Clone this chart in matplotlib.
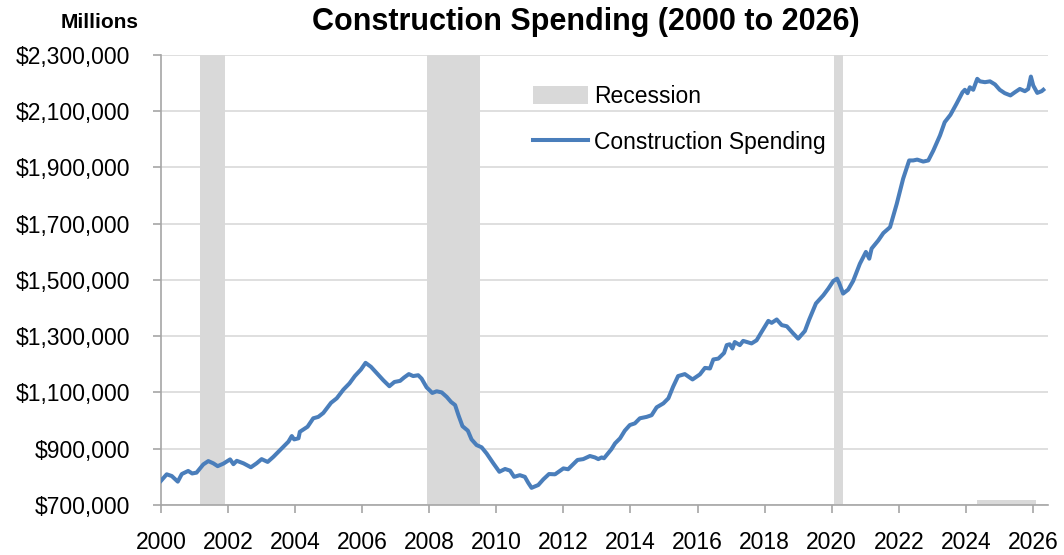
import matplotlib
matplotlib.use('Agg')
import matplotlib.pyplot as plt
from matplotlib.ticker import FuncFormatter, MultipleLocator

# Data (decimal year, $ millions)
years = [
    2000.00, 2000.17, 2000.32, 2000.50, 2000.62, 2000.81, 2000.93, 2001.06, 2001.26, 2001.41,
    2001.56, 2001.69, 2001.86, 2002.06, 2002.16, 2002.26, 2002.46, 2002.68, 2002.85, 2003.00,
    2003.18, 2003.35, 2003.60, 2003.80, 2003.90, 2003.97, 2004.10, 2004.14, 2004.37, 2004.54,
    2004.69, 2004.84, 2005.07, 2005.24, 2005.44, 2005.62, 2005.78, 2005.96, 2006.10, 2006.26,
    2006.43, 2006.63, 2006.81, 2006.96, 2007.13, 2007.25, 2007.39, 2007.52, 2007.67, 2007.77,
    2007.92, 2008.09, 2008.22, 2008.37, 2008.52, 2008.65, 2008.77, 2008.87, 2008.99, 2009.15,
    2009.26, 2009.41, 2009.56, 2009.71, 2009.91, 2010.09, 2010.26, 2010.41, 2010.53, 2010.70,
    2010.85, 2010.95, 2011.05, 2011.25, 2011.40, 2011.57, 2011.75, 2012.00, 2012.14, 2012.42,
    2012.59, 2012.79, 2012.94, 2013.04, 2013.14, 2013.21, 2013.43, 2013.54, 2013.69, 2013.83,
    2013.98, 2014.13, 2014.28, 2014.48, 2014.63, 2014.78, 2014.98, 2015.13, 2015.27, 2015.42,
    2015.62, 2015.85, 2016.07, 2016.22, 2016.37, 2016.47, 2016.62, 2016.79, 2016.87, 2016.96,
    2017.04, 2017.11, 2017.26, 2017.36, 2017.61, 2017.76, 2017.91, 2018.11, 2018.21, 2018.36,
    2018.51, 2018.66, 2018.84, 2019.00, 2019.20, 2019.33, 2019.53, 2019.75, 2019.90, 2020.05,
    2020.16, 2020.22, 2020.34, 2020.49, 2020.64, 2020.84, 2021.02, 2021.12, 2021.19, 2021.39,
    2021.54, 2021.74, 2021.94, 2022.13, 2022.31, 2022.43, 2022.55, 2022.73, 2022.88, 2023.03,
    2023.23, 2023.37, 2023.54, 2023.72, 2023.90, 2023.97, 2024.05, 2024.12, 2024.22, 2024.34,
    2024.42, 2024.57, 2024.72, 2024.87, 2025.01, 2025.16, 2025.33, 2025.46, 2025.61, 2025.76,
    2025.86, 2025.94, 2026.01, 2026.13, 2026.26, 2026.31,
]
spending = [
    786000, 809000, 803000, 783000, 810000, 821000, 812000, 815000, 844000, 856000,
    848000, 838000, 847000, 862000, 845000, 857000, 848000, 834000, 848000, 863000,
    853000, 871000, 901000, 925000, 945000, 933000, 937000, 960000, 978000, 1008000,
    1013000, 1027000, 1063000, 1079000, 1110000, 1132000, 1158000, 1181000, 1205000, 1191000,
    1169000, 1143000, 1122000, 1137000, 1141000, 1153000, 1165000, 1158000, 1161000, 1149000,
    1118000, 1098000, 1104000, 1100000, 1084000, 1066000, 1055000, 1019000, 980000, 964000,
    933000, 913000, 905000, 883000, 848000, 818000, 828000, 822000, 800000, 806000,
    800000, 779000, 761000, 771000, 791000, 810000, 809000, 830000, 827000, 860000,
    863000, 874000, 869000, 863000, 869000, 866000, 898000, 919000, 937000, 964000,
    984000, 990000, 1008000, 1013000, 1019000, 1047000, 1061000, 1079000, 1120000, 1158000,
    1165000, 1146000, 1164000, 1187000, 1185000, 1217000, 1220000, 1240000, 1268000, 1271000,
    1256000, 1279000, 1268000, 1283000, 1274000, 1285000, 1315000, 1354000, 1347000, 1359000,
    1339000, 1335000, 1311000, 1291000, 1318000, 1359000, 1416000, 1445000, 1469000, 1496000,
    1504000, 1489000, 1451000, 1465000, 1496000, 1557000, 1599000, 1575000, 1611000, 1640000,
    1666000, 1687000, 1770000, 1859000, 1924000, 1924000, 1927000, 1920000, 1924000, 1959000,
    2013000, 2060000, 2086000, 2125000, 2166000, 2175000, 2163000, 2184000, 2175000, 2214000,
    2205000, 2202000, 2205000, 2194000, 2175000, 2163000, 2155000, 2166000, 2178000, 2170000,
    2178000, 2222000, 2190000, 2164000, 2170000, 2175000,
]

# Recession periods (start, end)
recessions = [(2001.17, 2001.92), (2007.92, 2009.50), (2020.08, 2020.33)]
# thin gray strip drawn at the bottom edge in the reference
bottom_strip = (2024.33, 2026.08)

yticks = [700000, 900000, 1100000, 1300000, 1500000, 1700000, 1900000, 2100000, 2300000]

plt.rcParams['font.family'] = ['Liberation Sans', 'DejaVu Sans']

fig = plt.figure(figsize=(10.64, 5.55), dpi=100)
ax = fig.add_axes([161/1064, 1 - 505/555, (1048 - 161)/1064, (505 - 54.6)/555])

rec_color = '#d9d9d9'
for i, (s, e) in enumerate(recessions):
    ax.axvspan(s, e, color=rec_color, lw=0, zorder=1,
               label='Recession' if i == 0 else None)
ax.axvspan(bottom_strip[0], bottom_strip[1], ymin=0, ymax=0.01, color=rec_color, lw=0, zorder=1)

ax.plot(years, spending, color='#4a7ebb', lw=2.9, zorder=3, label='Construction Spending',
        solid_joinstyle='round')

ax.set_xlim(2000, 2026.45)
ax.set_ylim(700000, 2300000)
ax.xaxis.set_major_locator(MultipleLocator(2))
ax.xaxis.set_major_formatter(FuncFormatter(lambda v, p: f'{int(round(v))}'))
ax.set_yticks(yticks)
ax.yaxis.set_major_formatter(FuncFormatter(lambda v, p: f'${v:,.0f}'))

ax.grid(axis='y', color='#d9d9d9', lw=1.2, zorder=0)
ax.set_axisbelow(True)
for side in ['top', 'right']:
    ax.spines[side].set_visible(False)
for side in ['left', 'bottom']:
    ax.spines[side].set_color('#a6a6a6')
    ax.spines[side].set_linewidth(1.2)

ax.tick_params(axis='y', direction='out', length=6, width=1.2, color='#a6a6a6',
               labelsize=16.5, pad=16)
ax.tick_params(axis='x', direction='out', length=6, width=1.2, color='#a6a6a6',
               labelsize=16.5, pad=13)

fig.text(586/1064, 1 - 22/555, 'Construction Spending (2000 to 2026)', ha='center', va='center',
         fontsize=22, fontweight='bold')
fig.text(139/1064, 1 - 22/555, 'Millions', ha='right', va='center', fontsize=15,
         fontweight='bold')

ax.legend(loc='upper left', bbox_to_anchor=((533 - 161)/887, (505 - 85)/450.4),
          frameon=False, fontsize=16.5, handlelength=2.4, handleheight=0.85,
          handletextpad=0.25, labelspacing=1.0, borderpad=0, borderaxespad=0)

fig.savefig('out.png', dpi=100)
